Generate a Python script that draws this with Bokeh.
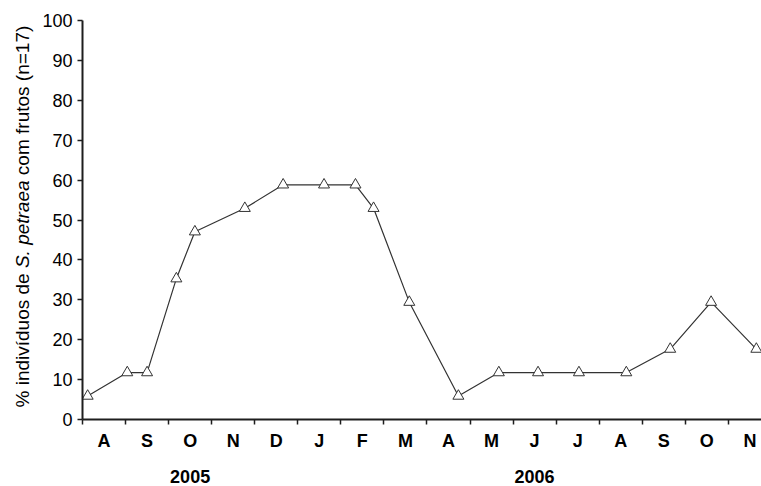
import math
from bokeh.plotting import figure
from bokeh.layouts import row
from bokeh.models import Range1d, FixedTicker, CustomJSTickFormatter, LinearAxis
from bokeh.core.properties import value
from bokeh.embed import file_html
from bokeh.resources import INLINE

# ---- data ----
months = ["A", "S", "O", "N", "D", "J", "F", "M", "A", "M", "J", "J", "A", "S", "O", "N"]
years = ["2005", "2006"]
year_month_counts = [5, 11]
# sampling position in months since start of August 2005
x_pos = [0.12, 1.04, 1.50, 2.18, 2.61, 3.77, 4.66, 5.61, 6.34, 6.76,
         7.59, 8.73, 9.67, 10.58, 11.53, 12.63, 13.65, 14.60, 15.65]
pct = [5.88, 11.76, 11.76, 35.29, 47.06, 52.94, 58.82, 58.82, 58.82, 52.94,
       29.41, 5.88, 11.76, 11.76, 11.76, 11.76, 17.65, 29.41, 17.65]
y_ticks = list(range(0, 101, 10))

FONT = "Liberation Sans"
AX = "#1e1e1e"
TITLE_W = 36
H = 486
TOP, BOTTOM = 20, 67

# ---------------- main plot ----------------
p = figure(width=761 - TITLE_W, height=H,
           x_range=Range1d(0, 15.77), y_range=Range1d(0, 100),
           output_backend="svg", toolbar_location=None,
           min_border_left=82 - TITLE_W, min_border_right=0,
           min_border_top=TOP, min_border_bottom=BOTTOM)
p.outline_line_color = None
p.grid.visible = False
p.background_fill_color = "white"
p.border_fill_color = "white"

# x axis (months)
xa = p.xaxis[0]
xa.ticker = FixedTicker(ticks=[i + 0.5 for i in range(len(months))],
                        minor_ticks=list(range(len(months) + 1)))
xa.formatter = CustomJSTickFormatter(args=dict(labels=months), code="""
const i = Math.floor(tick);
return (i >= 0 && i < labels.length) ? labels[i] : '';
""")
xa.major_tick_out = 0
xa.major_tick_in = 0
xa.minor_tick_out = 5
xa.minor_tick_in = 0
xa.minor_tick_line_color = AX
xa.minor_tick_line_width = 1.5
xa.axis_line_color = AX
xa.axis_line_width = 2
xa.major_label_text_font = FONT
xa.major_label_text_font_style = "bold"
xa.major_label_text_font_size = "18px"
xa.major_label_text_color = "black"
xa.major_label_standoff = 6

# year axis below the months
centers = []
start = 0
for n in year_month_counts:
    centers.append(start + n / 2)
    start += n
ya2 = LinearAxis(ticker=FixedTicker(ticks=centers),
                 formatter=CustomJSTickFormatter(args=dict(labels=years, pos=centers), code="""
let best = 0;
for (let i = 0; i < pos.length; i++) {
  if (Math.abs(pos[i] - tick) < Math.abs(pos[best] - tick)) best = i;
}
return labels[best];
"""))
ya2.axis_line_color = None
ya2.major_tick_line_color = None
ya2.minor_tick_line_color = None
ya2.major_tick_out = 0
ya2.major_tick_in = 0
ya2.major_label_text_font = FONT
ya2.major_label_text_font_style = "bold"
ya2.major_label_text_font_size = "18px"
ya2.major_label_text_color = "black"
ya2.major_label_standoff = 16
p.add_layout(ya2, "below")

# y axis
ya = p.yaxis[0]
ya.ticker = FixedTicker(ticks=y_ticks)
ya.major_tick_out = 5
ya.major_tick_in = 0
ya.minor_tick_out = 0
ya.minor_tick_in = 0
ya.major_tick_line_color = AX
ya.major_tick_line_width = 1.5
ya.axis_line_color = AX
ya.axis_line_width = 2
ya.major_label_text_font = FONT
ya.major_label_text_font_size = "18px"
ya.major_label_text_color = "black"
ya.major_label_standoff = 5

# data
p.line(x_pos, pct, line_color="#333333", line_width=1.2)
p.scatter(x_pos, pct, marker="triangle", size=11, fill_color="white",
          line_color="#333333", line_width=1)

# ---------------- y-axis title strip (mixed italic) ----------------
# row() aligns this strip's frame with the main frame, so map its y range
# to canvas pixels measured from the bottom.
t = figure(width=TITLE_W, height=H, x_range=Range1d(0, TITLE_W),
           y_range=Range1d(BOTTOM, H - TOP),
           x_axis_location=None, y_axis_location=None,
           output_backend="svg", toolbar_location=None, min_border=0)
t.grid.visible = False
t.outline_line_color = None
t.background_fill_color = "white"
t.border_fill_color = "white"

W = {'%': 0.889, ' ': 0.278, 'i': 0.222, 'n': 0.556, 'd': 0.556, 'v': 0.5,
     'í': 0.278, 'u': 0.556, 'o': 0.556, 's': 0.5, 'e': 0.556, 'S': 0.667,
     '.': 0.278, 'p': 0.556, 't': 0.278, 'r': 0.333, 'a': 0.556, 'c': 0.5,
     'm': 0.833, 'f': 0.278, '(': 0.333, ')': 0.333, '=': 0.584, '1': 0.556,
     '7': 0.556}
fs = 19
parts = [("% indivíduos de ", "normal"), ("S. petraea ", "italic"),
         ("com frutos (n=17)", "normal")]
ycur = H - 407
for txt, style in parts:
    t.text(x=[22], y=[ycur], text=[txt.strip()], angle=math.pi / 2,
           text_align="left", text_baseline="middle",
           text_font=value(FONT), text_font_style=value(style),
           text_font_size=value(f"{fs}px"), text_color="black")
    ycur += sum(W.get(c, 0.556) for c in txt) * fs

layout = row(t, p, spacing=0)
open("out.html", "w").write(file_html(layout, INLINE))
